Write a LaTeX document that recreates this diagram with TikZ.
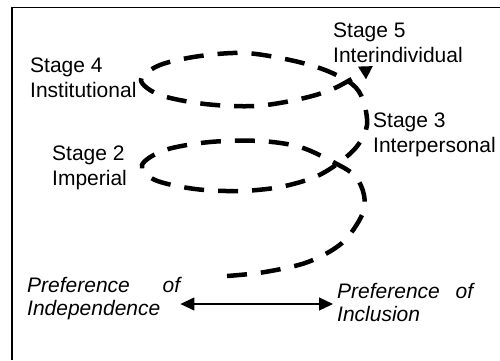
\documentclass[tikz,border=0pt]{standalone}
\usepackage{fontspec}
\setmainfont{Liberation Sans}
\usetikzlibrary{arrows.meta}

\begin{document}
\begin{tikzpicture}[x=1pt,y=-1pt,
        stage/.style={anchor=base west,inner sep=0pt,align=left,font=\fontsize{21}{24.5}\selectfont},
        pref/.style={stage,font=\fontsize{21}{23}\selectfont\itshape},
        loop/.style={line width=4.5pt,dash pattern=on 20pt off 14pt},
        both/.style={line width=1.2pt,{Triangle[length=14pt,width=13pt]}-{Triangle[length=14pt,width=13pt]}}]
        \useasboundingbox (0,0) rectangle (500,360);
        \draw[line width=1.6pt] (12,360) -- (12,7.5) -- (500,7.5);
        \draw[loop,-{Triangle[length=13pt,width=14pt]}] plot[smooth,tension=0.55] coordinates {
            (227,276) (265,272) (308,262) (342,243) (362,215) (364,195) (355,176) (335,163)
            (300,147) (260,141) (210,142) (165,150) (142,165) (155,180) (195,189) (240,191)
            (280,187) (315,177) (340,162) (358,145) (367,125) (363,100) (352,84) (325,70)
            (290,60) (245,53) (200,56) (160,65) (141,80) (160,95) (205,104) (255,106)
            (300,99) (335,88) (373,66)};
        % base anchor sits on the last line
        \node[stage] (s4) at (30,97) {Stage 4\\Institutional};
        \node[stage] (s2) at (52,185) {Stage 2\\Imperial};
        \node[stage] (s5) at (333,62) {Stage 5\\Interindividual};
        \node[stage] (s3) at (373,152) {Stage 3\\Interpersonal};
        \node[pref] (indep) at (27,315) {\makebox[153pt][l]{Preference\hfill of}\\Independence};
        \node[pref] (incl) at (337,321) {\makebox[136pt][l]{Preference\hfill of}\\Inclusion};
        \draw[both] (indep.east |- 0,304) -- ([xshift=-4pt]incl.west |- 0,304);
    \end{tikzpicture}
\end{document}
